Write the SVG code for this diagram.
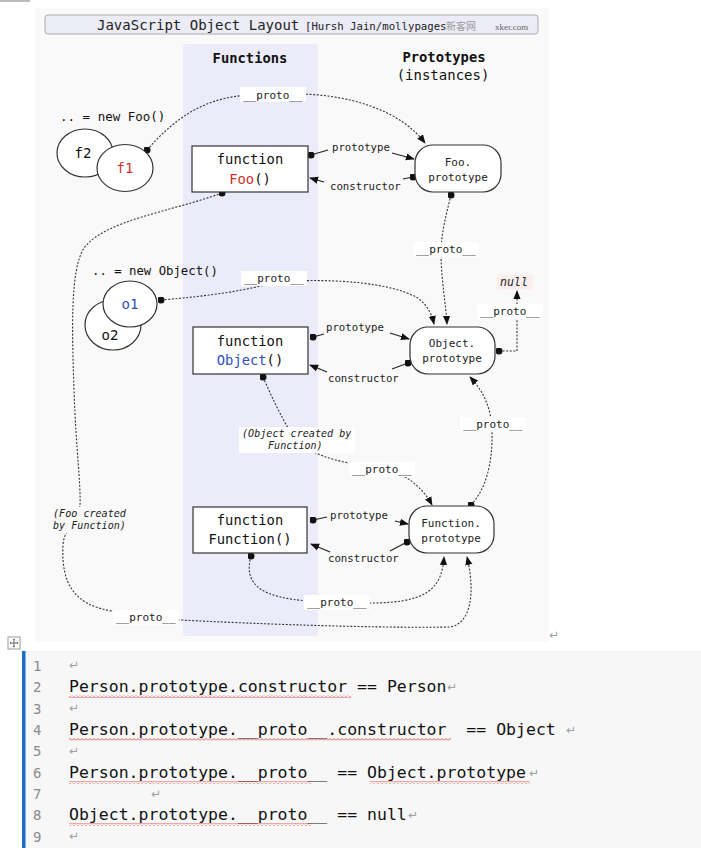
<svg xmlns="http://www.w3.org/2000/svg" width="701" height="866" viewBox="0 0 701 866">
<defs>
<style>
.mono{font-family:"DejaVu Sans Mono","Liberation Mono",monospace}
.conn{fill:none;stroke:#333;stroke-width:1.1;stroke-dasharray:2 1.6}
.solid{fill:none;stroke:#222;stroke-width:1.2}
.lbl{font-family:"DejaVu Sans Mono","Liberation Mono",monospace;font-size:10.7px;fill:#222}
.plbl{font-family:"DejaVu Sans Mono","Liberation Mono",monospace;font-size:11px;fill:#222}
.it{font-style:italic;font-size:10.1px}
.bg{fill:#fff}
.box{fill:#fff;stroke:#333;stroke-width:1.2}
.fn{font-family:"DejaVu Sans Mono","Liberation Mono",monospace;font-size:13.8px;fill:#111;text-anchor:middle}
.pt{font-family:"DejaVu Sans Mono","Liberation Mono",monospace;font-size:11px;fill:#222;text-anchor:middle}
.code{font-family:"DejaVu Sans Mono","Liberation Mono",monospace;font-size:16.5px;fill:#111;white-space:pre}
.num{font-family:"DejaVu Sans Mono","Liberation Mono",monospace;font-size:14px;fill:#8a8a8a}
.ret{font-family:"DejaVu Sans","Liberation Sans",sans-serif;font-size:12px;fill:#a0a0a0}
</style>
<marker id="ah" viewBox="0 0 10 10" refX="9" refY="5" markerWidth="9" markerHeight="9" markerUnits="userSpaceOnUse" orient="auto"><path d="M0,1 L10,5 L0,9 z" fill="#111"/></marker>
<marker id="dot" viewBox="0 0 10 10" refX="5" refY="5" markerWidth="7" markerHeight="7" markerUnits="userSpaceOnUse"><circle cx="5" cy="5" r="5" fill="#111"/></marker>
<pattern id="wave" width="4" height="3" patternUnits="userSpaceOnUse"><path d="M0,2.5 L2,0.5 L4,2.5" fill="none" stroke="#e03030" stroke-width="0.8"/></pattern>
</defs>
<rect width="701" height="866" fill="#fff"/>
<rect x="0" y="0" width="30" height="2" fill="#bbb"/>
<!-- diagram panel -->
<rect x="35" y="8" width="514" height="634" fill="#f9f9f9"/>
<rect x="183" y="44" width="135" height="592" rx="3" fill="#ebebf9"/>
<g id="title">
<rect x="45" y="15" width="493" height="19" rx="3" fill="#ececf7" stroke="#aaa"/>
<text class="mono" x="97" y="30" font-size="14" fill="#222">JavaScript Object Layout</text>
<text class="mono" x="305" y="30" font-size="10.7" fill="#222">[Hursh Jain/mollypages</text>
<text x="446" y="30" font-size="10" fill="#999" font-family="'Noto Sans CJK SC',sans-serif">新客网</text>
<text x="495" y="30" font-size="9" fill="#666" font-family="'Liberation Serif',serif">xker.com</text>
</g>
<g id="headers">
<text class="mono" x="250" y="63" font-size="13.8" font-weight="bold" text-anchor="middle" fill="#111">Functions</text>
<text class="mono" x="444" y="62" font-size="13.8" font-weight="bold" text-anchor="middle" fill="#111">Prototypes</text>
<text class="mono" x="443" y="80" font-size="14" text-anchor="middle" fill="#111">(instances)</text>
</g>
<g id="connectors">
<path class="conn" d="M147,150 C175,118 205,97 250,95 L300,94 C350,95 400,110 425,143" marker-start="url(#dot)" marker-end="url(#ah)"/>
<path class="conn" d="M451,195 C446,215 441,235 441,252 C441,280 446,305 447,324" marker-start="url(#dot)" marker-end="url(#ah)"/>
<path class="conn" d="M161,300 C210,296 250,290 275,282 C330,278 390,282 418,298 C428,306 432,315 434,324" marker-start="url(#dot)" marker-end="url(#ah)"/>
<path class="conn" d="M499,351 L517,351 L517,291" marker-start="url(#dot)" marker-end="url(#ah)"/>
<path class="conn" d="M471,505 C485,490 493,465 492,430 C491,405 482,390 470,377" marker-start="url(#dot)" marker-end="url(#ah)"/>
<path class="conn" d="M263,377 C272,398 282,418 292,435 C305,452 330,460 355,464 L400,474 C415,482 425,492 432,505" marker-start="url(#dot)" marker-end="url(#ah)"/>
<path class="conn" d="M251,556 C243,585 262,598 310,601 L370,603 C425,603 442,590 444,557" marker-start="url(#dot)" marker-end="url(#ah)"/>
<path class="conn" d="M222,193 C170,212 105,220 84,248 C70,270 72,330 74,390 C76,450 81,485 80,505 C79,520 64,528 63,545 C61,585 75,605 112,611 L180,620 C300,626 400,628 450,627 C470,624 476,595 467,557" marker-start="url(#dot)" marker-end="url(#ah)"/>
<!-- prototype / constructor -->
<path class="solid" d="M311,155 L328,150" marker-start="url(#dot)"/>
<path class="solid" d="M392,153 L414,159" marker-end="url(#ah)"/>
<path class="solid" d="M413,177 L403,179" marker-start="url(#dot)"/>
<path class="solid" d="M324,182 L310,178" marker-end="url(#ah)"/>
<path class="solid" d="M313,337 L324,334" marker-start="url(#dot)"/>
<path class="solid" d="M390,333 L409,339" marker-end="url(#ah)"/>
<path class="solid" d="M408,363 L392,369" marker-start="url(#dot)"/>
<path class="solid" d="M327,372 L310,365" marker-end="url(#ah)"/>
<path class="solid" d="M313,520 L327,517" marker-start="url(#dot)"/>
<path class="solid" d="M395,521 L408,524" marker-end="url(#ah)"/>
<path class="solid" d="M407,542 L390,551" marker-start="url(#dot)"/>
<path class="solid" d="M330,552 L311,544" marker-end="url(#ah)"/>
<text class="lbl" x="332" y="151">prototype</text>
<text class="lbl" x="330" y="190">constructor</text>
<text class="lbl" x="326" y="331">prototype</text>
<text class="lbl" x="328" y="382">constructor</text>
<text class="lbl" x="330" y="519">prototype</text>
<text class="lbl" x="328" y="562">constructor</text>
<!-- __proto__ labels -->
<rect class="bg" x="240" y="87" width="66" height="15"/>
<text class="plbl" x="243" y="99">__proto__</text>
<rect class="bg" x="413" y="242" width="66" height="15"/>
<text class="plbl" x="416" y="253">__proto__</text>
<rect class="bg" x="241" y="271" width="66" height="15"/>
<text class="plbl" x="244" y="282">__proto__</text>
<rect class="bg" x="477" y="304" width="66" height="15"/>
<text class="plbl" x="480" y="315">__proto__</text>
<rect class="bg" x="460" y="417" width="66" height="15"/>
<text class="plbl" x="463" y="428">__proto__</text>
<rect class="bg" x="349" y="462" width="66" height="15"/>
<text class="plbl" x="352" y="473">__proto__</text>
<rect class="bg" x="304" y="595" width="66" height="15"/>
<text class="plbl" x="307" y="606">__proto__</text>
<rect class="bg" x="113" y="610" width="66" height="15"/>
<text class="plbl" x="116" y="621">__proto__</text>
<rect class="bg" x="239" y="427" width="116" height="26"/>
<text class="mono it" x="242" y="437" fill="#222">(Object created by</text>
<text class="mono it" x="268" y="449" fill="#222">Function)</text>
<rect x="51" y="507" width="78" height="26" fill="#f9f9f9"/>
<text class="mono it" x="53" y="517" fill="#222">(Foo created</text>
<text class="mono it" x="53" y="529" fill="#222">by Function)</text>
</g>
<g id="null">
<rect x="497" y="275" width="36" height="15" fill="#fbeeee"/>
<text class="mono" x="500" y="286" font-size="11.6" font-style="italic" fill="#222">null</text>
</g>
<g id="foo-instances">
<text class="mono" x="60" y="121" font-size="12.5" fill="#111">.. = new Foo()</text>
<ellipse cx="85" cy="153" rx="28" ry="24" class="box"/>
<text class="mono" x="83" y="158" font-size="14" text-anchor="middle" fill="#111">f2</text>
<ellipse cx="125" cy="168" rx="28" ry="23.5" class="box"/>
<text class="mono" x="125" y="173" font-size="14" text-anchor="middle" fill="#d03030">f1</text>
</g>
<g id="object-instances">
<text class="mono" x="92" y="275" font-size="12.3" fill="#111">.. = new Object()</text>
<ellipse cx="113" cy="325" rx="28" ry="25" class="box"/>
<text class="mono" x="110" y="340" font-size="14" text-anchor="middle" fill="#111">o2</text>
<ellipse cx="130" cy="304" rx="27" ry="23" class="box"/>
<text class="mono" x="130" y="309" font-size="14" text-anchor="middle" fill="#3050c0">o1</text>
</g>
<g id="foo-fn">
<rect x="192" y="146" width="116" height="46" class="box"/>
<text class="fn" x="250" y="164">function</text>
<text class="fn" x="250" y="184"><tspan fill="#d03030">Foo</tspan>()</text>
</g>
<g id="object-fn">
<rect x="193" y="327" width="115" height="47" class="box"/>
<text class="fn" x="250" y="346">function</text>
<text class="fn" x="250" y="365"><tspan fill="#3050c0">Object</tspan>()</text>
</g>
<g id="function-fn">
<rect x="193" y="507" width="114" height="46" class="box"/>
<text class="fn" x="250" y="525">function</text>
<text class="fn" x="250" y="544">Function()</text>
</g>
<g id="foo-proto">
<rect x="415" y="145" width="86" height="47" rx="18" class="box"/>
<text class="pt" x="458" y="166">Foo.</text>
<text class="pt" x="458" y="181">prototype</text>
</g>
<g id="object-proto">
<rect x="410" y="327" width="85" height="47" rx="18" class="box"/>
<text class="pt" x="452" y="347">Object.</text>
<text class="pt" x="452" y="362">prototype</text>
</g>
<g id="function-proto">
<rect x="409" y="506" width="85" height="47" rx="18" class="box"/>
<text class="pt" x="451" y="527">Function.</text>
<text class="pt" x="451" y="542">prototype</text>
</g>
<text class="ret" x="549" y="639">↵</text>
<!-- move icon -->
<g id="move-icon">
<rect x="8" y="637" width="12" height="12" fill="#fff" stroke="#999" stroke-width="1"/>
<path d="M14,639 L14,647 M10,643 L18,643" stroke="#666" stroke-width="1"/>
<path d="M14,638.5 L12.8,640 L15.2,640 z M14,647.5 L12.8,646 L15.2,646 z M9.5,643 L11,641.8 L11,644.2 z M18.5,643 L17,641.8 L17,644.2 z" fill="#666"/>
</g>
<!-- code block -->
<g id="code">
<rect x="25" y="651" width="676" height="197" fill="#f7f7f7"/>
<rect x="22" y="651" width="3.5" height="197" fill="#1a6ec4"/>
<text class="num" x="33" y="671">1</text>
<text class="num" x="33" y="692">2</text>
<text class="num" x="33" y="714">3</text>
<text class="num" x="33" y="735">4</text>
<text class="num" x="33" y="756">5</text>
<text class="num" x="33" y="778">6</text>
<text class="num" x="33" y="799">7</text>
<text class="num" x="33" y="820">8</text>
<text class="num" x="33" y="842">9</text>
<text class="ret" x="69" y="669">↵</text>
<text class="code" x="69" y="692">Person.prototype.constructor == Person</text>
<text class="ret" x="447" y="691">↵</text>
<text class="ret" x="69" y="712">↵</text>
<text class="code" x="69" y="735" xml:space="preserve">Person.prototype.__proto__.constructor  == Object</text>
<text class="ret" x="566" y="734">↵</text>
<text class="ret" x="69" y="755">↵</text>
<text class="code" x="69" y="778">Person.prototype.__proto__ == Object.prototype</text>
<text class="ret" x="529" y="777">↵</text>
<text class="ret" x="151" y="798">↵</text>
<text class="code" x="69" y="820">Object.prototype.__proto__ == null</text>
<text class="ret" x="408" y="819">↵</text>
<text class="ret" x="69" y="840">↵</text>
<rect x="69" y="695" width="282" height="3" fill="url(#wave)"/>
<rect x="69" y="738" width="382" height="3" fill="url(#wave)"/>
<rect x="69" y="781" width="242" height="3" fill="url(#wave)"/>
<rect x="370" y="781" width="160" height="3" fill="url(#wave)"/>
<rect x="69" y="823" width="242" height="3" fill="url(#wave)"/>
</g>
</svg>
